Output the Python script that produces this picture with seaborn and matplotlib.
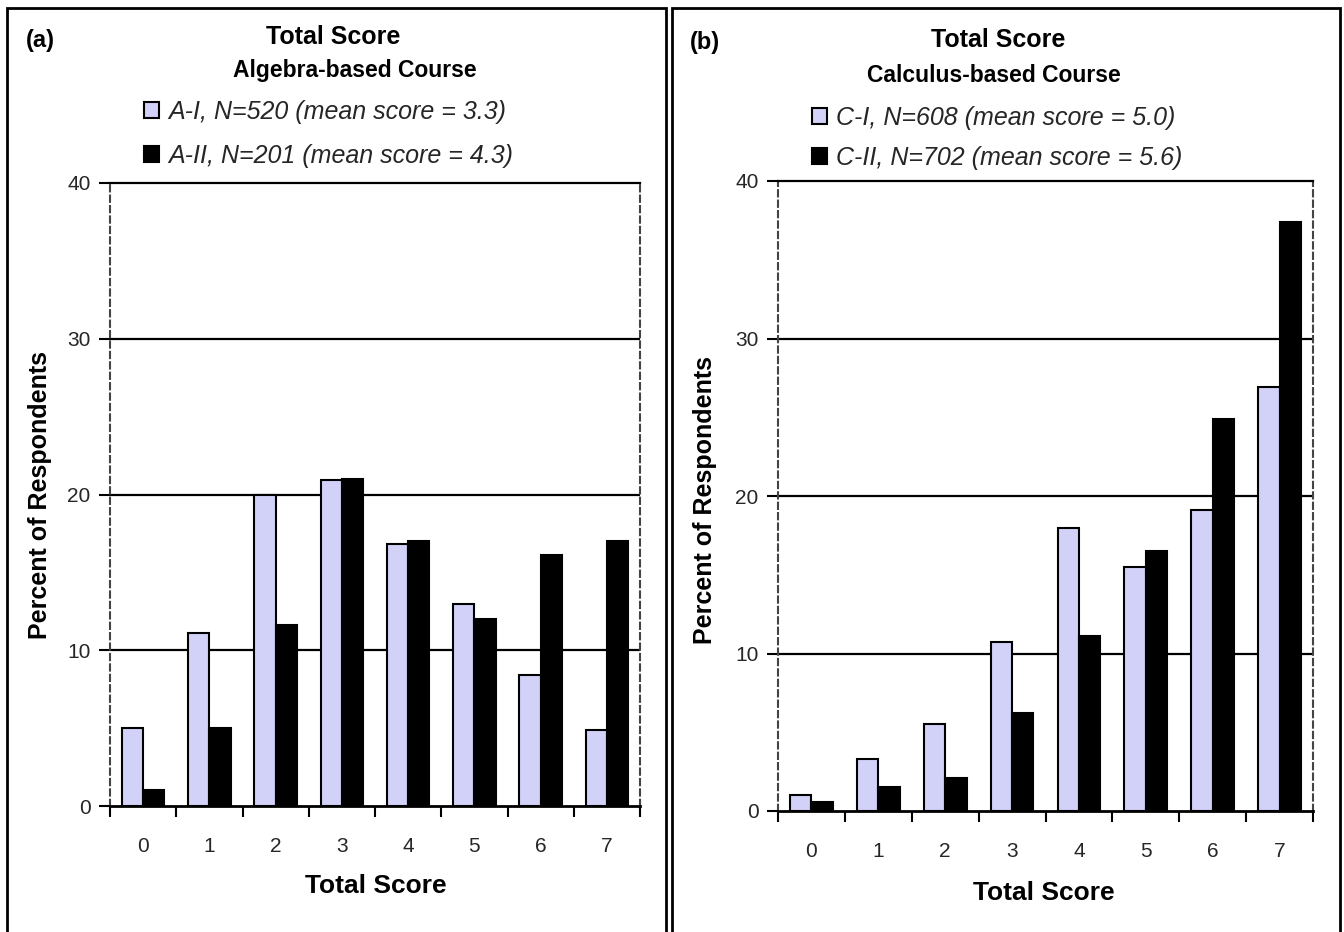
import numpy as np
import pandas as pd
import matplotlib
matplotlib.use('Agg')
import matplotlib.pyplot as plt
import seaborn as sns
from matplotlib.patches import Rectangle

scores = [0, 1, 2, 3, 4, 5, 6, 7]

# panel (a): algebra-based course
a1_label = 'A-I, N=520 (mean score = 3.3)'
a2_label = 'A-II, N=201 (mean score = 4.3)'
a1_vals = [5.0, 11.1, 20.0, 20.9, 16.8, 13.0, 8.4, 4.9]
a2_vals = [1.0, 5.0, 11.6, 21.0, 17.0, 12.0, 16.1, 17.0]

# panel (b): calculus-based course
c1_label = 'C-I, N=608 (mean score = 5.0)'
c2_label = 'C-II, N=702 (mean score = 5.6)'
c1_vals = [1.0, 3.3, 5.5, 10.7, 18.0, 15.5, 19.1, 26.9]
c2_vals = [0.6, 1.5, 2.1, 6.2, 11.1, 16.5, 24.9, 37.4]

y_ticks = [0, 10, 20, 30, 40]

W, H = 1344, 932
LIGHT = '#CCCCFF'

sns.set_theme(style='white')
plt.rcParams['font.family'] = ['Liberation Sans', 'DejaVu Sans']


def px(x, y):
    return x / W, 1 - y / H


def draw_panel(ax, s1, s2, l1, l2):
    df = pd.DataFrame({
        'score': [str(s) for s in scores] * 2,
        'pct': s1 + s2,
        'series': [l1] * len(scores) + [l2] * len(scores),
    })
    for g in [10, 20, 30]:
        ax.axhline(g, color='black', lw=1.6, zorder=0)
    sns.barplot(data=df, x='score', y='pct', hue='series',
                palette={l1: LIGHT, l2: 'black'}, width=0.64, gap=0,
                edgecolor='black', linewidth=1.5, ax=ax, zorder=2)
    ax.set_ylim(0, 40)
    ax.set_xlim(-0.5, 7.5)
    ax.set_yticks(y_ticks)
    ax.set_yticklabels([str(t) for t in y_ticks], fontsize=15)
    ax.set_xticks(range(8))
    ax.set_xticklabels([str(s) for s in scores], fontsize=15)
    ax.tick_params(axis='x', which='major', length=0, pad=22)
    ax.set_xticks(np.arange(-0.5, 8, 1), minor=True)
    ax.tick_params(axis='x', which='minor', length=8, width=1.5,
                   color='black', direction='out', bottom=True)
    ax.tick_params(axis='y', length=8, width=1.5, color='black',
                   direction='out', left=True, pad=6)
    ax.set_xlabel('')
    ax.set_ylabel('')
    for side in ['left', 'right']:
        ax.spines[side].set_color('#444444')
        ax.spines[side].set_linestyle((0, (3, 2)))
        ax.spines[side].set_linewidth(1.5)
    ax.spines['top'].set_color('black')
    ax.spines['top'].set_linewidth(1.6)
    ax.spines['bottom'].set_color('black')
    ax.spines['bottom'].set_linewidth(2)
    handles, labels = ax.get_legend_handles_labels()
    ax.get_legend().remove()
    return handles, labels


fig = plt.figure(figsize=(W / 100, H / 100), dpi=100)
ax1 = fig.add_axes([110 / W, 1 - 806 / H, 530 / W, 623 / H])
ax2 = fig.add_axes([778 / W, 1 - 811 / H, 535 / W, 630 / H])

h1, lab1 = draw_panel(ax1, a1_vals, a2_vals, a1_label, a2_label)
h2, lab2 = draw_panel(ax2, c1_vals, c2_vals, c1_label, c2_label)

# panel frames
fig.patches.append(Rectangle(px(7, 960), 659 / W, 952 / H, transform=fig.transFigure,
                             fill=False, edgecolor='black', lw=2))
fig.patches.append(Rectangle(px(672, 960), 668 / W, 952 / H, transform=fig.transFigure,
                             fill=False, edgecolor='black', lw=2))

bold = dict(fontweight='bold', color='black')
fig.text(*px(40, 40), '(a)', fontsize=17, va='center', ha='center', **bold)
fig.text(*px(333, 37), 'Total Score', fontsize=18, va='center', ha='center', **bold)
fig.text(*px(355, 70), 'Algebra-based Course', fontsize=16.5, va='center', ha='center', **bold)
fig.text(*px(705, 43), '(b)', fontsize=17, va='center', ha='center', **bold)
fig.text(*px(998, 40), 'Total Score', fontsize=18, va='center', ha='center', **bold)
fig.text(*px(994, 76), 'Calculus-based Course', fontsize=16.5, va='center', ha='center', **bold)

fig.text(*px(40, 495), 'Percent of Respondents', fontsize=18, rotation=90,
         va='center', ha='center', **bold)
fig.text(*px(705, 500), 'Percent of Respondents', fontsize=18, rotation=90,
         va='center', ha='center', **bold)
fig.text(*px(376, 886), 'Total Score', fontsize=19, va='center', ha='center', **bold)
fig.text(*px(1044, 893), 'Total Score', fontsize=19, va='center', ha='center', **bold)

leg_kw = dict(frameon=False, handlelength=0.6, handleheight=0.6, handletextpad=0.35,
              borderaxespad=0, loc='upper left',
              prop={'style': 'italic', 'size': 18})
fig.legend(h1, lab1, bbox_to_anchor=px(134, 90), labelspacing=0.8, **leg_kw)
fig.legend(h2, lab2, bbox_to_anchor=px(802, 96), labelspacing=0.62, **leg_kw)

fig.savefig('out.png', dpi=100)
